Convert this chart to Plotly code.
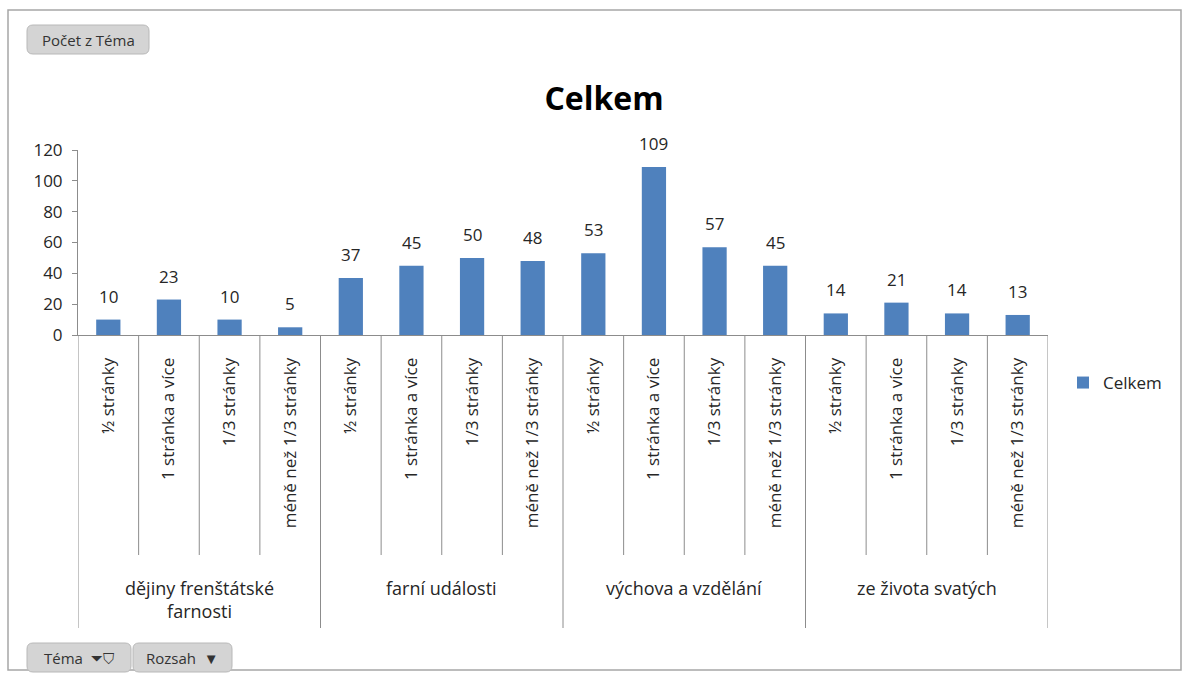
import plotly.graph_objects as go

groups = ["dějiny frenštátské<br>farnosti", "farní události", "výchova a vzdělání", "ze života svatých"]
subcats = ["½ stránky", "1 stránka a více", "1/3 stránky", "méně než 1/3 stránky"]
values = [10, 23, 10, 5, 37, 45, 50, 48, 53, 109, 57, 45, 14, 21, 14, 13]
series_name = "Celkem"
y_ticks = [0, 20, 40, 60, 80, 100, 120]

W, H = 1189, 679
ML, MR, MT, MB = 78, 141, 150, 344
PW = W - ML - MR
PH = H - MT - MB

def px_x(p):
    return (p - ML) / PW

def px_y(p):
    return (H - MB - p) / PH

n = len(values)
xs = list(range(n))
ticktext = [subcats[i % len(subcats)] for i in xs]

font_family = "Open Sans, Noto Sans, sans-serif"
txt_col = "#262626"
line_col = "#8c8c8c"
bar_col = "#4F81BD"

fig = go.Figure()
fig.add_trace(go.Bar(x=xs, y=values, name=series_name, marker=dict(color=bar_col, line=dict(width=0)),
                     showlegend=True))

for x, v in zip(xs, values):
    fig.add_annotation(x=x, y=v, xref="x", yref="y", text=str(v), showarrow=False,
                       yanchor="bottom", yshift=10, font=dict(size=17, color=txt_col, family=font_family))

shapes = []
k = len(subcats)
for i in range(1, n):
    if i % k == 0:
        continue
    shapes.append(dict(type="line", xref="x", yref="paper", x0=i - 0.5, x1=i - 0.5,
                       y0=0, y1=px_y(555), line=dict(color=line_col, width=1)))
for g in range(len(groups) + 1):
    xg = g * k - 0.5
    shapes.append(dict(type="line", xref="x", yref="paper", x0=xg, x1=xg,
                       y0=0, y1=px_y(628), line=dict(color=line_col, width=1)))
for g, name in enumerate(groups):
    fig.add_annotation(x=g * k + (k - 1) / 2, xref="x", y=px_y(574), yref="paper", text=name,
                       showarrow=False, yanchor="top", align="center",
                       font=dict(size=18, color=txt_col, family=font_family))

shapes.append(dict(type="rect", xref="paper", yref="paper", x0=px_x(8), x1=px_x(1181),
                   y0=px_y(670), y1=px_y(10), line=dict(color="#a6a6a6", width=1.5), layer="below"))

def rounded(x0, y0, x1, y1, r=6):
    X0, X1 = px_x(x0), px_x(x1)
    Y0, Y1 = px_y(y0), px_y(y1)
    rx, ry = r / PW, r / PH
    return (f"M {X0+rx},{Y0} L {X1-rx},{Y0} Q {X1},{Y0} {X1},{Y0-ry} "
            f"L {X1},{Y1+ry} Q {X1},{Y1} {X1-rx},{Y1} L {X0+rx},{Y1} Q {X0},{Y1} {X0},{Y1+ry} "
            f"L {X0},{Y0-ry} Q {X0},{Y0} {X0+rx},{Y0} Z")

buttons = [
    (27, 25, 149, 54, "Počet z Téma"),
    (27, 643, 131, 672, "Téma  ⏷⛉"),
    (133, 643, 232, 672, "Rozsah  ▼"),
]
for x0, y0, x1, y1, label in buttons:
    shapes.append(dict(type="path", xref="paper", yref="paper", path=rounded(x0, y0, x1, y1),
                       fillcolor="#d4d4d4", line=dict(color="#b8b8b8", width=1), layer="below"))
    fig.add_annotation(x=px_x((x0 + x1) / 2), y=px_y((y0 + y1) / 2), xref="paper", yref="paper",
                       text=label, showarrow=False, xanchor="center", yanchor="middle",
                       font=dict(size=15, color="#333333", family=font_family))

fig.update_layout(
    width=W, height=H,
    margin=dict(l=ML, r=MR, t=MT, b=MB),
    paper_bgcolor="white", plot_bgcolor="white",
    title=dict(text="<b>Celkem</b>", x=604 / W, xanchor="center", y=1 - 99 / H, yanchor="middle",
               font=dict(size=32, color="#000000", family=font_family)),
    bargap=0.6,
    shapes=shapes,
    showlegend=True,
    legend=dict(x=px_x(1063), xanchor="left", y=px_y(383), yanchor="middle",
                font=dict(size=17, color=txt_col, family=font_family), bgcolor="rgba(0,0,0,0)",
                itemwidth=30),
    font=dict(family=font_family),
)
fig.update_xaxes(range=[-0.5, n - 0.5], tickmode="array", tickvals=xs, ticktext=ticktext,
                 tickangle=-90, showgrid=False, zeroline=False, showline=True, linecolor=line_col,
                 ticks="", ticklabelstandoff=15, tickfont=dict(size=17, color=txt_col, family=font_family))
fig.update_yaxes(range=[0, 120], tickmode="array", tickvals=y_ticks, showgrid=False, zeroline=False,
                 showline=True, linecolor=line_col, ticks="outside", ticklen=5, tickcolor=line_col,
                 ticklabelstandoff=6, tickfont=dict(size=17, color=txt_col, family=font_family))

fig.write_html("out.html", config={"displayModeBar": False},
               post_script="document.body.style.margin='0';document.body.style.overflow='hidden';")
